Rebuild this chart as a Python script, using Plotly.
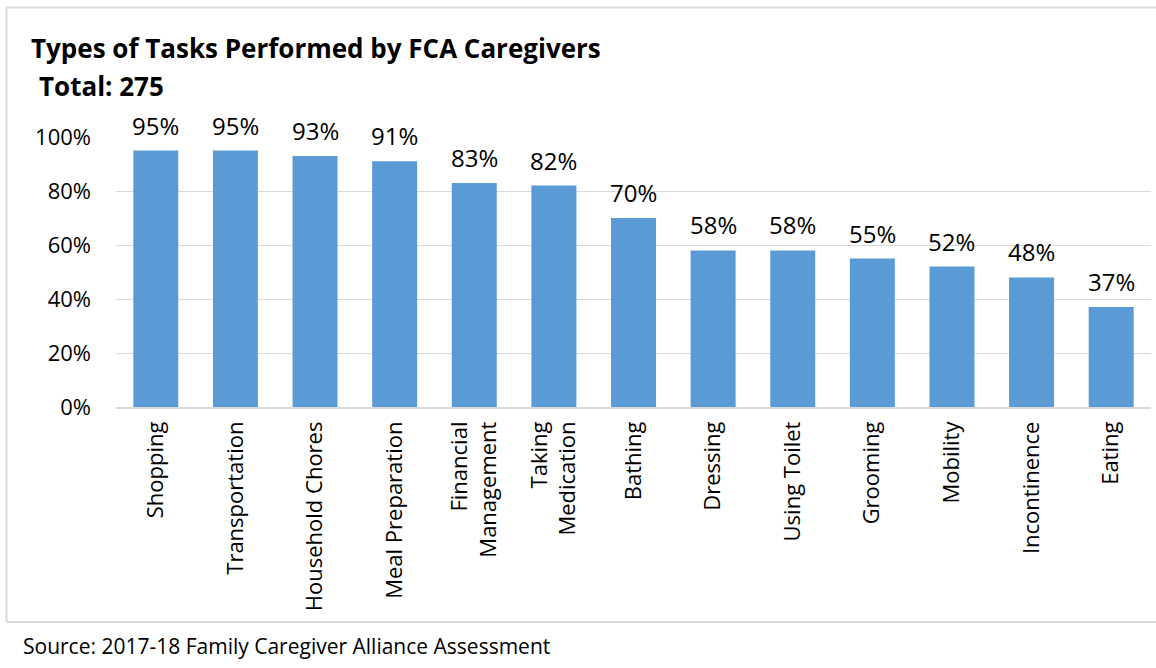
import plotly.graph_objects as go

categories = ["Shopping", "Transportation", "Household Chores", "Meal Preparation",
              "Financial<br>Management", "Taking<br>Medication", "Bathing", "Dressing",
              "Using Toilet", "Grooming", "Mobility", "Incontinence", "Eating"]
values = [0.95, 0.95, 0.93, 0.91, 0.83, 0.82, 0.70, 0.58, 0.58, 0.55, 0.52, 0.48, 0.37]
y_ticks = [0, 0.2, 0.4, 0.6, 0.8, 1.0]
y_tick_labels = ["0%", "20%", "40%", "60%", "80%", "100%"]

W, H = 1156, 668
ML, MR, MT, MB = 116, 5, 137, 261
PW = W - ML - MR
PH = H - MT - MB

def px_x(px):
    return (px - ML) / PW

def px_y(py):
    return (H - MB - py) / PH

FONT = "Open Sans"

fig = go.Figure(go.Bar(
    x=categories, y=values,
    marker=dict(color="#5B9BD5", line=dict(width=0)),
    hovertemplate="%{x}: %{y:.0%}<extra></extra>",
))

value_labels = [
    dict(x=c, y=v, xref="x", yref="y", text=f"{round(v * 100)}%", showarrow=False,
         xanchor="center", yanchor="bottom", yshift=7,
         font=dict(family=FONT, size=24, color="#000000"))
    for c, v in zip(categories, values)
]

frame = dict(color="#D9D9D9", width=2)
x_left, x_right = px_x(6.5), px_x(1156)
y_top, y_bottom = px_y(7.5), px_y(622)

fig.update_layout(
    width=W, height=H,
    margin=dict(l=ML, r=MR, t=MT, b=MB),
    paper_bgcolor="white", plot_bgcolor="white",
    bargap=0.435, showlegend=False,
    font=dict(family=FONT, color="#000000"),
    xaxis=dict(tickangle=-90, tickfont=dict(family=FONT, size=22, color="#000000"),
               showline=True, linecolor="#D9D9D9", linewidth=1.5,
               showgrid=False, ticks="", ticklabelstandoff=4),
    yaxis=dict(range=[0, 1.0], tickvals=y_ticks, ticktext=y_tick_labels,
               tickfont=dict(family=FONT, size=22, color="#000000"),
               showgrid=True, gridcolor="#D9D9D9", gridwidth=1.2,
               zeroline=False, showline=False, ticks="", ticklabelstandoff=24),
    annotations=value_labels + [
        dict(text="<b>Types of Tasks Performed by FCA Caregivers</b>", xref="paper", yref="paper",
             x=px_x(29), y=px_y(48), xanchor="left", yanchor="middle", showarrow=False,
             font=dict(family=FONT, size=26, color="#000000")),
        dict(text="<b>Total: 275</b>", xref="paper", yref="paper",
             x=px_x(37), y=px_y(86), xanchor="left", yanchor="middle", showarrow=False,
             font=dict(family=FONT, size=26, color="#000000")),
        dict(text="Source: 2017-18 Family Caregiver Alliance Assessment", xref="paper", yref="paper",
             x=px_x(21), y=px_y(646), xanchor="left", yanchor="middle", showarrow=False,
             font=dict(family=FONT, size=21, color="#000000")),
    ],
    shapes=[
        dict(type="line", xref="paper", yref="paper", x0=x_left, x1=x_right, y0=y_top, y1=y_top,
             line=frame, layer="below"),
        dict(type="line", xref="paper", yref="paper", x0=x_left, x1=x_right, y0=y_bottom, y1=y_bottom,
             line=frame, layer="below"),
        dict(type="line", xref="paper", yref="paper", x0=x_left, x1=x_left, y0=y_bottom, y1=y_top,
             line=frame, layer="below"),
    ],
)

fig.write_html("out.html", config={"displayModeBar": False},
               post_script="document.body.style.margin='0';document.body.style.overflow='hidden';")
